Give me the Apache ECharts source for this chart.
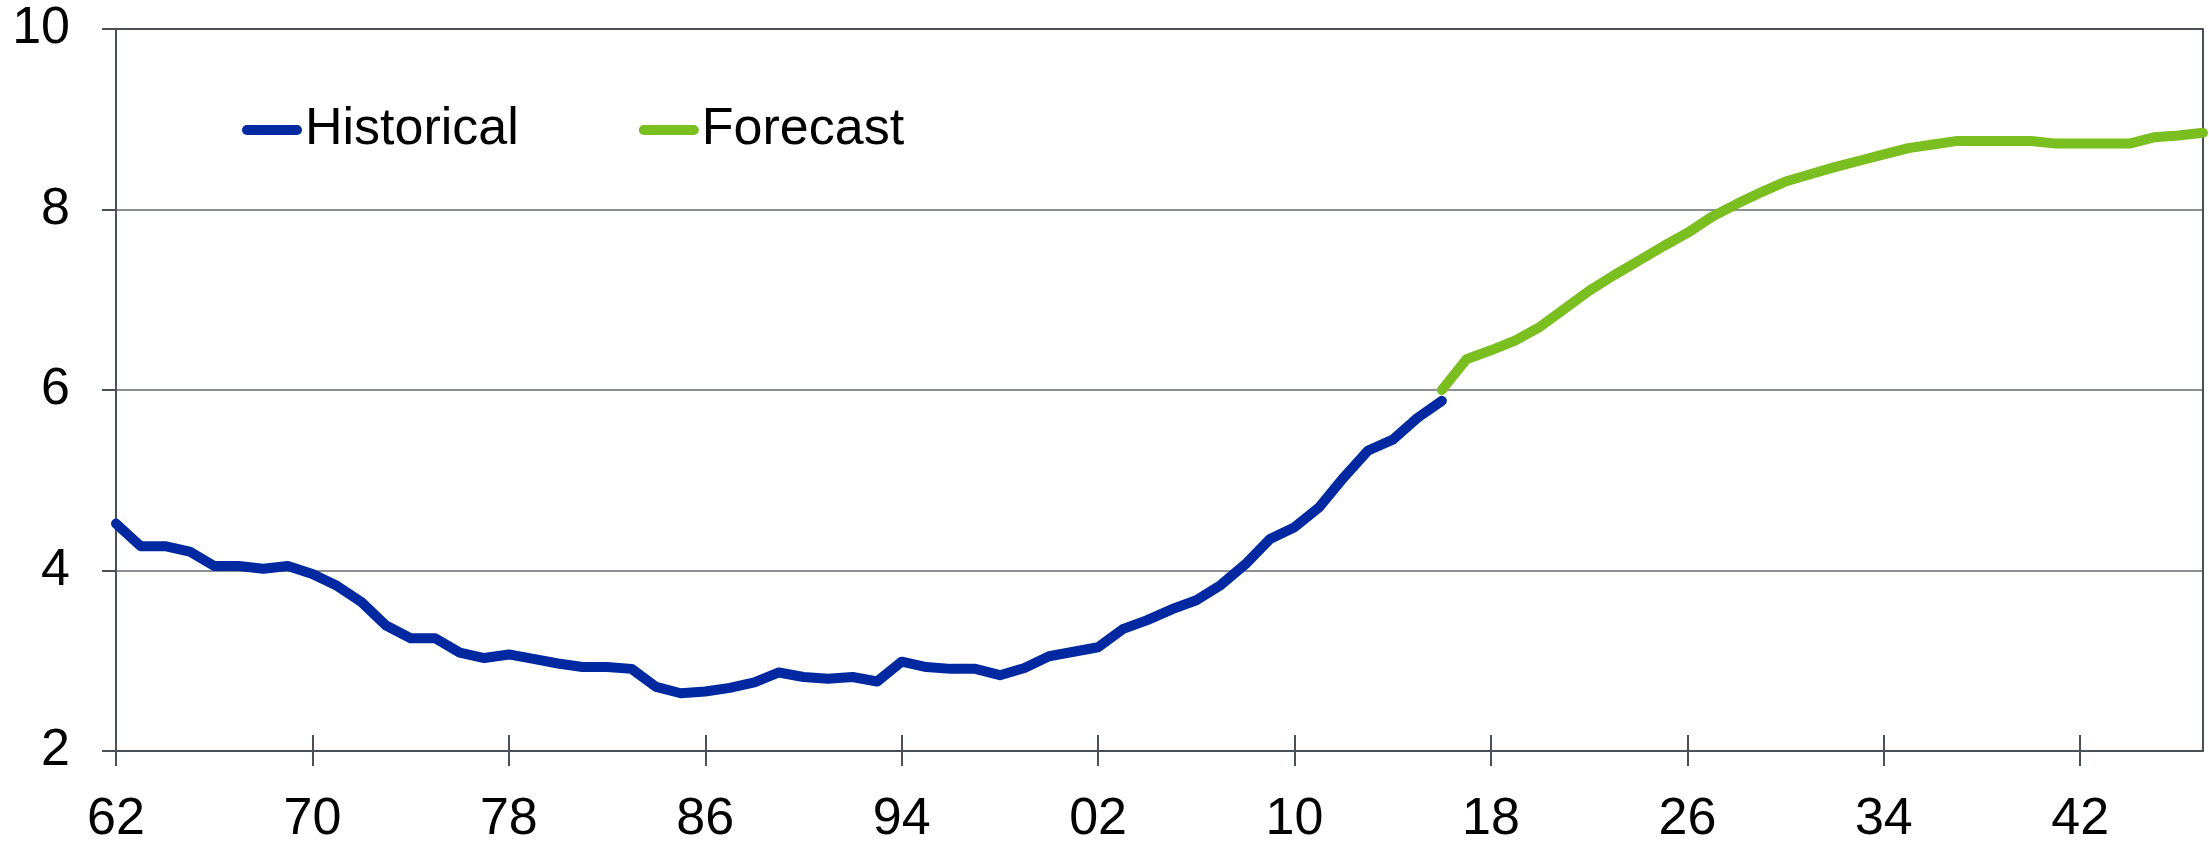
<!DOCTYPE html>
<html>
<head>
<meta charset="utf-8">
<script src="https://cdn.jsdelivr.net/npm/echarts@6/dist/echarts.min.js"></script>
<style>
  html, body { margin: 0; padding: 0; background: #fff; }
  #chart { width: 2209px; height: 846px; }
</style>
</head>
<body>
<div id="chart"></div>
<script>
// years on the x axis, one category per year
const years = [
  '1962','1963','1964','1965','1966','1967','1968','1969','1970','1971',
  '1972','1973','1974','1975','1976','1977','1978','1979','1980','1981',
  '1982','1983','1984','1985','1986','1987','1988','1989','1990','1991',
  '1992','1993','1994','1995','1996','1997','1998','1999','2000','2001',
  '2002','2003','2004','2005','2006','2007','2008','2009','2010','2011',
  '2012','2013','2014','2015','2016','2017','2018','2019','2020','2021',
  '2022','2023','2024','2025','2026','2027','2028','2029','2030','2031',
  '2032','2033','2034','2035','2036','2037','2038','2039','2040','2041',
  '2042','2043','2044','2045','2046','2047'
]

// 1962 - 2016
const historical = [
  4.52, 4.27, 4.27, 4.21, 4.05, 4.05, 4.02, 4.05, 3.96, 3.83,
  3.65, 3.39, 3.25, 3.25, 3.09, 3.03, 3.07, 3.02, 2.97, 2.93,
  2.93, 2.91, 2.71, 2.64, 2.66, 2.70, 2.76, 2.87, 2.82, 2.80,
  2.82, 2.77, 2.99, 2.93, 2.91, 2.91, 2.84, 2.92, 3.05, 3.10,
  3.15, 3.35, 3.45, 3.57, 3.67, 3.84, 4.07, 4.35, 4.48, 4.70,
  5.03, 5.33, 5.45, 5.69, 5.88
]

// 2016 - 2047
const forecast = [
  6.00, 6.34, 6.44, 6.55, 6.70, 6.90, 7.10, 7.27, 7.43, 7.59,
  7.74, 7.92, 8.06, 8.19, 8.31, 8.39, 8.47, 8.54, 8.61, 8.68,
  8.72, 8.76, 8.76, 8.76, 8.76, 8.73, 8.73, 8.73, 8.73, 8.80,
  8.82, 8.85
]

const yTicks = [2, 4, 6, 8, 10]

const FONT = '"Liberation Sans", Arial, Helvetica, sans-serif'
const AXIS = '#4b5056'
const GRIDC = '#8c9095'

// pad the series so each one sits on its own years
const histData = historical.concat(new Array(years.length - historical.length).fill(null))
const fcData = new Array(years.length - forecast.length).fill(null).concat(forecast)

const chart = echarts.init(document.getElementById('chart'))
chart.setOption({
  animation: false,
  backgroundColor: '#fff',
  grid: { left: 116, right: 6, top: 29, bottom: 88 },
  legend: {
    left: 242,
    top: 104,
    padding: 0,
    itemWidth: 60,
    itemHeight: 10,
    itemGap: 120,
    icon: 'path://M5,0 H55 A5,5 0 0 1 55,10 H5 A5,5 0 0 1 5,0 Z',
    textStyle: { fontFamily: FONT, fontSize: 52, color: '#000', padding: [0, 0, 0, -2] },
    data: ['Historical', 'Forecast']
  },
  xAxis: [{
    type: 'category',
    data: years,
    boundaryGap: false,
    axisLine: { show: true, lineStyle: { color: AXIS, width: 2 } },
    axisTick: { show: true, interval: 7, length: 15, lineStyle: { color: AXIS, width: 2 } },
    axisLabel: {
      interval: 7,
      margin: 43,
      fontFamily: FONT,
      fontSize: 52,
      color: '#000',
      formatter: v => v.slice(2)
    },
    splitLine: { show: false }
  }, {
    // upward half of the crossing ticks
    type: 'category',
    data: years,
    boundaryGap: false,
    position: 'bottom',
    axisLine: { show: false },
    axisTick: { show: true, inside: true, interval: 7, length: 16, lineStyle: { color: AXIS, width: 2 } },
    axisLabel: { show: false },
    splitLine: { show: false }
  }],
  yAxis: [{
    type: 'value',
    min: yTicks[0],
    max: yTicks[yTicks.length - 1],
    interval: 2,
    axisLine: { show: true, lineStyle: { color: AXIS, width: 2 } },
    axisTick: { show: true, length: 14, lineStyle: { color: AXIS, width: 2 } },
    axisLabel: { margin: 46, fontFamily: FONT, fontSize: 52, color: '#000' },
    splitLine: { show: true, lineStyle: { color: [AXIS, GRIDC, GRIDC, GRIDC, AXIS], width: 2 } }
  }, {
    // right border of the plot
    type: 'value',
    position: 'right',
    min: yTicks[0],
    max: yTicks[yTicks.length - 1],
    interval: 2,
    axisLine: { show: true, lineStyle: { color: AXIS, width: 2 } },
    axisTick: { show: false },
    axisLabel: { show: false },
    splitLine: { show: false }
  }],
  series: [
    {
      name: 'Historical',
      type: 'line',
      data: histData,
      showSymbol: false,
      color: '#0028a0',
      lineStyle: { width: 10, color: '#0028a0', cap: 'round', join: 'round' },
      z: 3
    },
    {
      name: 'Forecast',
      type: 'line',
      data: fcData,
      showSymbol: false,
      color: '#7abf1f',
      lineStyle: { width: 10, color: '#7abf1f', cap: 'round', join: 'round' },
      z: 2
    }
  ]
})
</script>
</body>
</html>
